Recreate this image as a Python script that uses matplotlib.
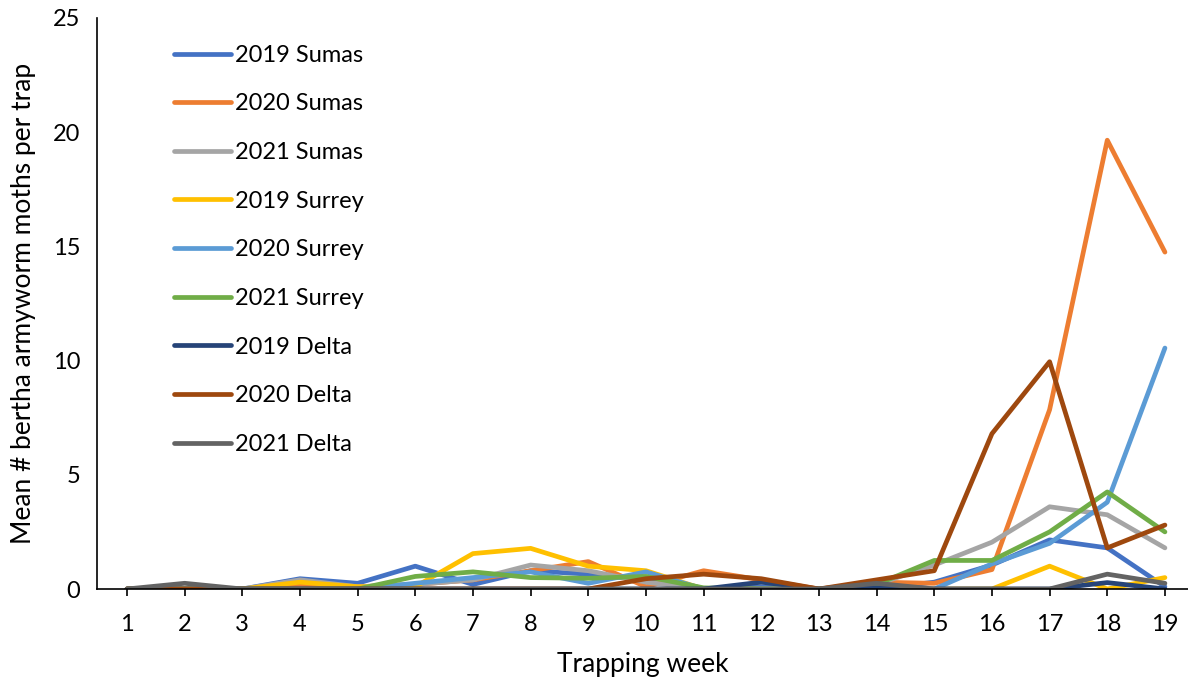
import matplotlib
matplotlib.use("Agg")
import matplotlib.pyplot as plt

weeks = list(range(1, 20))

sumas_2019 = [0, 0, 0, 0.45, 0.25, 1.0, 0.2, 0.8, 0.65, 0.4, 0, 0.1, 0, 0, 0.3, 1.05, 2.15, 1.8, 0.1]
sumas_2020 = [0, 0, 0, 0.2, 0.1, 0.2, 0.4, 0.8, 1.2, 0.1, 0.8, 0.4, 0, 0.3, 0.25, 0.85, 7.85, 19.65, 14.75]
sumas_2021 = [0, 0, 0, 0.4, 0.1, 0.2, 0.4, 1.05, 0.8, 0.3, 0, 0, 0, 0.2, 1.05, 2.05, 3.6, 3.25, 1.8]
surrey_2019 = [0, 0, 0, 0.3, 0.1, 0.1, 1.55, 1.78, 1.0, 0.8, 0, 0, 0, 0, 0, 0, 1.0, 0, 0.5]
surrey_2020 = [0, 0, 0, 0, 0, 0.25, 0.5, 0.75, 0.25, 0.75, 0, 0, 0, 0, 0, 1.1, 2.0, 3.8, 10.55]
surrey_2021 = [0, 0, 0, 0, 0, 0.55, 0.75, 0.5, 0.47, 0.55, 0.05, 0, 0, 0.2, 1.25, 1.25, 2.5, 4.25, 2.5]
delta_2019 = [0, 0, 0, 0, 0, 0, 0, 0, 0, 0, 0, 0.3, 0, 0.05, 0, 0, 0, 0.28, 0]
delta_2020 = [0, 0, 0, 0, 0, 0, 0, 0, 0, 0.45, 0.65, 0.45, 0, 0.4, 0.8, 6.8, 9.95, 1.8, 2.8]
delta_2021 = [0, 0.25, 0, 0, 0, 0, 0, 0, 0, 0, 0, 0, 0, 0.25, 0, 0, 0, 0.65, 0.25]

series = [
    ("2019 Sumas", sumas_2019, "#4472C4"),
    ("2020 Sumas", sumas_2020, "#ED7D31"),
    ("2021 Sumas", sumas_2021, "#A5A5A5"),
    ("2019 Surrey", surrey_2019, "#FFC000"),
    ("2020 Surrey", surrey_2020, "#5B9BD5"),
    ("2021 Surrey", surrey_2021, "#70AD47"),
    ("2019 Delta", delta_2019, "#264478"),
    ("2020 Delta", delta_2020, "#9E480E"),
    ("2021 Delta", delta_2021, "#636363"),
]

plt.rcParams['font.family'] = ['Lato', 'DejaVu Sans']

fig = plt.figure(figsize=(11.88, 6.84), dpi=100)
ax = fig.add_axes([97/1188, 1 - 589/684, 1 - 97/1188, (589 - 18)/684])

for label, vals, color in series:
    ax.plot(weeks, vals, color=color, lw=3.4, label=label, solid_capstyle='round', solid_joinstyle='round')

ax.set_xlim(0.48, 19.4)
ax.set_ylim(0, 25)
ax.set_xticks(weeks)
ax.set_yticks([0, 5, 10, 15, 20, 25])
ax.tick_params(axis='x', direction='out', length=5, width=1.2, labelsize=17, pad=13, color='black')
ax.tick_params(axis='y', length=0, labelsize=17, pad=12)
for s in ['top', 'right']:
    ax.spines[s].set_visible(False)
for s in ['left', 'bottom']:
    ax.spines[s].set_linewidth(1.2)
    ax.spines[s].set_color('black')

ax.set_xlabel("Trapping week", fontsize=19, labelpad=12)
ax.set_ylabel("Mean # bertha armyworm moths per trap", fontsize=19, labelpad=12)

leg = ax.legend(loc='upper left', bbox_to_anchor=(0.071, 0.953), frameon=False,
                fontsize=17, handlelength=2.4, handletextpad=0.17, labelspacing=1.17,
                borderaxespad=0, borderpad=0)

fig.savefig("out.png", dpi=100)
